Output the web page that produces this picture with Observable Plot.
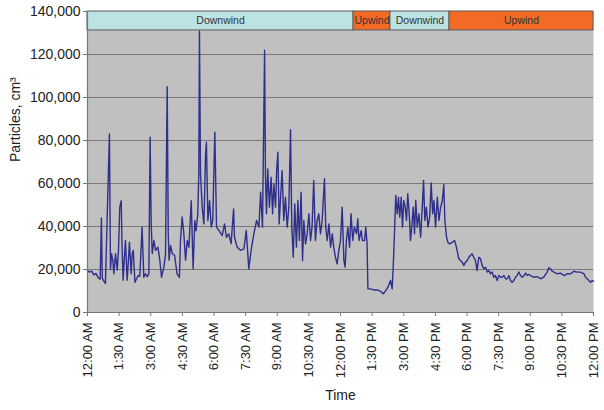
<!DOCTYPE html>
<html>
<head>
<meta charset="utf-8">
<script src="https://cdn.jsdelivr.net/npm/d3@7"></script>
<script src="https://cdn.jsdelivr.net/npm/@observablehq/plot@0.6"></script>
<style>
  html, body { margin: 0; padding: 0; background: #fff; }
  #chart { width: 604px; height: 410px; }
</style>
</head>
<body>
<div id="chart"></div>
<script>
// Time of day in hours since midnight
const hours = [
  0.00, 0.10, 0.20, 0.30, 0.40, 0.50, 0.60, 0.66, 0.70, 0.78, 0.85, 1.04, 1.09, 1.14, 1.20, 1.25, 1.33, 1.41, 1.47, 1.53,
  1.60, 1.64, 1.69, 1.74, 1.80, 1.88, 1.94, 1.99, 2.07, 2.12, 2.17, 2.25, 2.33, 2.40, 2.48, 2.59, 2.67, 2.75, 2.83, 2.91,
  2.97, 3.02, 3.07, 3.15, 3.23, 3.34, 3.43, 3.51, 3.62, 3.70, 3.78, 3.83, 3.87, 3.94, 4.02, 4.13, 4.25, 4.36, 4.41, 4.49,
  4.57, 4.65, 4.73, 4.81, 4.92, 5.01, 5.09, 5.15, 5.23, 5.28, 5.31, 5.36, 5.44, 5.52, 5.60, 5.64, 5.71, 5.79, 5.87, 5.94,
  6.04, 6.12, 6.23, 6.39, 6.50, 6.59, 6.70, 6.81, 6.93, 6.97, 7.10, 7.26, 7.42, 7.53, 7.65, 7.76, 7.89, 8.02, 8.13, 8.21,
  8.30, 8.40, 8.44, 8.49, 8.55, 8.63, 8.71, 8.78, 8.84, 8.92, 8.97, 9.03, 9.09, 9.15, 9.23, 9.31, 9.39, 9.47, 9.55, 9.63,
  9.69, 9.76, 9.83, 9.91, 9.98, 10.05, 10.13, 10.20, 10.26, 10.34, 10.42, 10.50, 10.58, 10.65, 10.73, 10.81, 10.89, 10.97, 11.05, 11.13,
  11.24, 11.30, 11.37, 11.45, 11.53, 11.61, 11.68, 11.76, 11.84, 11.92, 12.00, 12.08, 12.16, 12.22, 12.28, 12.35, 12.43, 12.50, 12.58, 12.66,
  12.76, 12.82, 12.88, 12.98, 13.04, 13.14, 13.20, 13.26, 13.30, 13.42, 13.58, 13.74, 13.90, 14.02, 14.13, 14.25, 14.37, 14.45, 14.50, 14.56,
  14.62, 14.69, 14.75, 14.81, 14.88, 14.94, 15.00, 15.07, 15.13, 15.19, 15.26, 15.32, 15.38, 15.45, 15.51, 15.57, 15.64, 15.72, 15.80, 15.87,
  15.94, 16.00, 16.07, 16.15, 16.23, 16.30, 16.37, 16.43, 16.51, 16.59, 16.67, 16.75, 16.83, 16.90, 16.95, 17.03, 17.09, 17.18, 17.30, 17.41,
  17.50, 17.61, 17.69, 17.77, 17.85, 17.93, 18.01, 18.09, 18.16, 18.24, 18.32, 18.40, 18.48, 18.56, 18.64, 18.72, 18.80, 18.88, 18.96, 19.04,
  19.11, 19.19, 19.27, 19.35, 19.43, 19.51, 19.59, 19.67, 19.75, 19.83, 19.91, 19.99, 20.06, 20.14, 20.22, 20.30, 20.38, 20.46, 20.54, 20.62,
  20.70, 20.78, 20.86, 20.93, 21.01, 21.17, 21.33, 21.49, 21.64, 21.80, 21.88, 21.96, 22.04, 22.12, 22.28, 22.44, 22.60, 22.75, 22.91, 23.07,
  23.23, 23.39, 23.55, 23.62, 23.70, 23.78, 23.86, 23.94, 24.00
];
// Particle concentration (particles per cm3)
const particles = [
  19500, 18800, 19200, 17500, 18200, 16200, 15500, 44000, 16000, 14500, 13500, 83000, 20000, 27400, 24300, 18100, 27400, 19700, 29000, 49000,
  52000, 30400, 15000, 24000, 33500, 15000, 24000, 32700, 18000, 27000, 28900, 14100, 15700, 17200, 16800, 39700, 16400, 18000, 16700, 18000,
  81500, 42000, 27400, 33500, 28900, 30400, 24300, 16400, 21000, 27000, 105000, 36600, 24300, 31200, 27400, 26600, 18000, 16400, 33500, 44400,
  36600, 24300, 33500, 30400, 52000, 20300, 42800, 38000, 45800, 64600, 131000, 64600, 49000, 41200, 73800, 79200, 42800, 52000, 39700, 42800,
  83900, 39700, 38200, 35800, 41200, 35000, 36600, 32000, 48200, 35000, 30400, 28900, 29600, 38200, 20300, 28900, 36600, 42800, 39700, 55900,
  39700, 122000, 64500, 45900, 66800, 49000, 62900, 45900, 59800, 49000, 66000, 74600, 41200, 52100, 66000, 42800, 53600, 39700, 49000, 85000,
  39700, 25700, 50500, 30400, 52100, 33500, 56000, 24200, 42800, 31900, 36600, 45900, 33500, 39700, 61400, 33500, 42800, 45900, 36600, 42800,
  62200, 39700, 33500, 41200, 30400, 36600, 30400, 25700, 22600, 28800, 33500, 49000, 24200, 21100, 33500, 39700, 30400, 45900, 33500, 39700,
  36600, 43600, 33500, 38100, 33500, 33500, 39700, 31900, 11000, 11000, 10500, 10500, 9900, 8700, 9900, 11800, 14900, 11000, 21100, 36600,
  54400, 45900, 53600, 44300, 53600, 39700, 52100, 49000, 42800, 55200, 45900, 33500, 39700, 49000, 36600, 52100, 39700, 45900, 35000, 47400,
  61400, 42800, 49000, 39700, 44300, 60200, 45900, 52100, 39700, 53600, 42800, 49000, 52100, 59500, 42800, 35000, 32700, 31900, 32700, 33500,
  30400, 25000, 24200, 23400, 21900, 23400, 24200, 25700, 26500, 27300, 25700, 24200, 19500, 25700, 25000, 21900, 20300, 21100, 18800, 19500,
  18000, 18800, 16400, 17200, 14900, 17200, 16400, 16400, 17200, 15700, 15700, 17200, 14900, 14100, 14900, 16400, 17200, 18800, 17200, 16400,
  17200, 18300, 17200, 17700, 17200, 16400, 16700, 15700, 16400, 18800, 20800, 20300, 19200, 18800, 18000, 18300, 17200, 18000, 18000, 19200,
  18800, 18800, 18000, 16400, 15700, 14900, 14100, 14900, 14500
];
// Wind-direction periods (hours)
const bandLabels = ["Downwind", "Upwind", "Downwind", "Upwind"];
const bandStart = [0, 12.62, 14.37, 17.17];
const bandEnd = [12.62, 14.37, 17.17, 24];
const bandLow = 131200;
const bandHigh = 140000;

// Axis ticks
const yTicks = [0, 20000, 40000, 60000, 80000, 100000, 120000, 140000];
const xTickHours = [0, 1.5, 3, 4.5, 6, 7.5, 9, 10.5, 12, 13.5, 15, 16.5, 18, 19.5, 21, 22.5, 24];
const xTickLabels = ["12:00 AM", "1:30 AM", "3:00 AM", "4:30 AM", "6:00 AM", "7:30 AM", "9:00 AM", "10:30 AM",
  "12:00 PM", "1:30 PM", "3:00 PM", "4:30 PM", "6:00 PM", "7:30 PM", "9:00 PM", "10:30 PM", "12:00 PM"];
const xTitle = "Time";
const yTitle = "Particles, cm³";

const series = hours.map((h, i) => ({h, v: particles[i]}));
const bands = bandLabels.map((label, i) => ({label, x1: bandStart[i], x2: bandEnd[i], y1: bandLow, y2: bandHigh}));

const chart = Plot.plot({
  width: 604,
  height: 410,
  marginLeft: 87,
  marginRight: 11,
  marginTop: 11,
  marginBottom: 98,
  style: {fontFamily: "'Liberation Sans', Arial, sans-serif", fontSize: "13px", color: "#222", background: "#fff"},
  x: {domain: [0, 24]},
  y: {domain: [0, 140000]},
  color: {domain: ["Downwind", "Upwind"], range: ["#bce3e4", "#f26a24"]},
  marks: [
    Plot.frame({fill: "#c0c0c0", stroke: null}),
    Plot.gridY(yTicks.slice(1), {stroke: "#7a7a7a", strokeOpacity: 1, strokeWidth: 1}),
    Plot.line(series, {x: "h", y: "v", stroke: "#2f2f8c", strokeWidth: 1.4, curve: "linear"}),
    Plot.rect(bands, {x1: "x1", x2: "x2", y1: "y1", y2: "y2", fill: "label", stroke: "#5a5a5a", strokeWidth: 1}),
    Plot.text(bands, {x: d => (d.x1 + d.x2) / 2, y: d => (d.y1 + d.y2) / 2, text: "label", fill: "#333", fontSize: 10.5}),
    Plot.ruleX([0], {stroke: "#777", strokeWidth: 1.2}),
    Plot.ruleY([0], {stroke: "#777", strokeWidth: 1.2}),
    Plot.axisY(yTicks, {tickFormat: d => d3.format(",")(d), tickSize: 4, tickPadding: 3, fontSize: 14, stroke: "#777", label: null}),
    Plot.axisX(xTickHours, {tickFormat: (d, i) => xTickLabels[i], tickSize: 4, tickPadding: 6, tickRotate: -90, fontSize: 13, stroke: "#777", label: null}),
    Plot.text([xTitle], {frameAnchor: "bottom", dy: 87, fontSize: 14, fill: "#222"}),
    Plot.text([yTitle], {frameAnchor: "left", dx: -72, rotate: -90, fontSize: 14, fill: "#222"})
  ]
});
document.getElementById("chart").appendChild(chart);
</script>
</body>
</html>
